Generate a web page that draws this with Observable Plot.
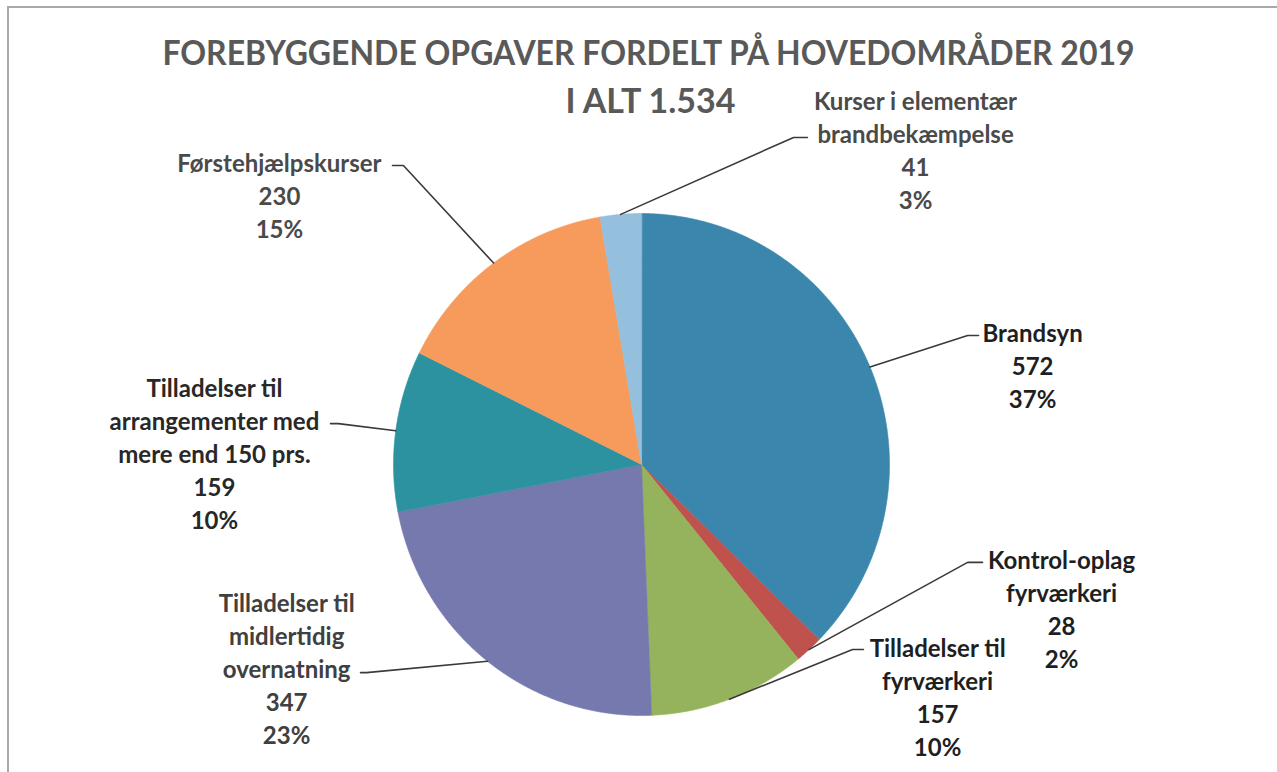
<!DOCTYPE html>
<html>
<head>
<meta charset="utf-8">
<script src="https://cdn.jsdelivr.net/npm/d3@7"></script>
<script src="https://cdn.jsdelivr.net/npm/@observablehq/plot@0.6"></script>
<style>
  html, body { margin: 0; padding: 0; background: #fff; }
  #wrap { position: relative; width: 1277px; height: 772px; overflow: hidden; background: #fff; }
  #frame { position: absolute; left: 7px; top: 6px; right: -4px; bottom: -4px;
           border-left: 2px solid #a9a9a9; border-top: 2px solid #a9a9a9; }
  #title { position: absolute; left: 10px; top: 28px; width: 1277px; text-align: center;
           font-family: Lato, "Open Sans", sans-serif; font-weight: 700; font-size: 34px;
           line-height: 48px; color: #595959; }
  #title .l1 { transform: scaleX(0.94); transform-origin: 638px 0; }
  #title .l2 { margin-left: 4px; }
  #chart { position: absolute; left: 0; top: 0; }
</style>
</head>
<body>
<div id="wrap">
  <div id="frame"></div>
  <div id="chart"></div>
  <div id="title"></div>
</div>
<script>
// ---- data ----
const titleText = "FOREBYGGENDE OPGAVER FORDELT PÅ HOVEDOMRÅDER 2019";
const totalPrefix = "I ALT";
const categories = [
  "Brandsyn",
  "Kontrol-oplag\nfyrværkeri",
  "Tilladelser til\nfyrværkeri",
  "Tilladelser til\nmidlertidig\novernatning",
  "Tilladelser til\narrangementer med\nmere end 150 prs.",
  "Førstehjælpskurser",
  "Kurser i elementær\nbrandbekæmpelse"
];
const values = [572, 28, 157, 347, 159, 230, 41];
const sliceColors = ["#3b86ad", "#c0524e", "#94b35c", "#7679ad", "#2d929f", "#f69b5c", "#94c0de"];

// ---- label layout (pie-radius units; elbow, end of leader, text anchor, text colour) ----
const labelLayout = [
  {ex: 1.315, ey: -0.514, tx: 1.359, ty: -0.514, lx: 1.577, ly: -0.514, color: "#1f1f1f"},
  {ex: 1.315, ey: 0.390,  tx: 1.375, ty: 0.390,  lx: 1.694, ly: 0.390,  color: "#1f1f1f"},
  {ex: 0.851, ey: 0.737,  tx: 0.895, ty: 0.737,  lx: 1.194, ly: 0.741,  color: "#1f1f1f"},
  {ex: -1.109, ey: 0.829, tx: -1.133, ty: 0.829, lx: -1.431, ly: 0.562, color: "#404040"},
  {ex: -1.222, ey: -0.163, tx: -1.254, ty: -0.163, lx: -1.722, ly: -0.295, color: "#282828"},
  {ex: -0.960, ey: -1.191, tx: -1.004, ty: -1.191, lx: -1.460, ly: -1.191, color: "#4a4a4a"},
  {ex: 0.613, ey: -1.303, tx: 0.669, ty: -1.303, lx: 1.105, ly: -1.438, color: "#4a4a4a"}
];

// ---- build ----
const total = d3.sum(values);
const dkFormat = d3.formatLocale({decimal: ",", thousands: ".", grouping: [3], currency: ["", ""]}).format(",");
const titleEl = document.getElementById("title");
titleEl.innerHTML = "";
const t1 = document.createElement("div"); t1.className = "l1"; t1.textContent = titleText;
const t2 = document.createElement("div"); t2.className = "l2"; t2.textContent = `${totalPrefix} ${dkFormat(total)}`;
titleEl.append(t1, t2);

const arcs = d3.pie().sort(null).value(d => d)(values);
const slicePts = [];
arcs.forEach((a, i) => {
  const cat = categories[i];
  slicePts.push({cat, x: 0, y: 0});
  const n = Math.max(4, Math.ceil((a.endAngle - a.startAngle) / 0.005));
  for (let k = 0; k <= n; k++) {
    const ang = a.startAngle + (a.endAngle - a.startAngle) * k / n;
    slicePts.push({cat, x: Math.sin(ang), y: -Math.cos(ang)});
  }
});

const leaderPts = [];
arcs.forEach((a, i) => {
  const mid = (a.startAngle + a.endAngle) / 2;
  const L = labelLayout[i];
  leaderPts.push({id: i, x: Math.sin(mid), y: -Math.cos(mid)});
  leaderPts.push({id: i, x: L.ex, y: L.ey});
  leaderPts.push({id: i, x: L.tx, y: L.ty});
});

const fs = 24;
const textMarks = arcs.map((a, i) => {
  const L = labelLayout[i];
  const pct = Math.round(values[i] / total * 100) + "%";
  return Plot.text([{x: L.lx, y: L.ly, t: `${categories[i]}\n${values[i]}\n${pct}`}], {
    x: "x", y: "y", text: "t",
    fontSize: fs, fontWeight: 700, fontFamily: "Lato, 'Open Sans', sans-serif",
    textAnchor: "middle", lineAnchor: "top", lineHeight: 1.375, dy: -0.71 * fs,
    fill: L.color
  });
});

const chart = Plot.plot({
  width: 1277, height: 772,
  marginTop: 0, marginBottom: 0, marginLeft: 0, marginRight: 0,
  style: {background: "transparent"},
  x: {domain: [-1, 1], range: [393, 889], axis: null},
  y: {domain: [-1, 1], range: [213, 715], axis: null},
  color: {domain: categories, range: sliceColors},
  marks: [
    Plot.line(slicePts, {x: "x", y: "y", z: "cat", fill: "cat", stroke: "cat", strokeWidth: 0.6, curve: "linear-closed"}),
    Plot.line(leaderPts, {x: "x", y: "y", z: "id", stroke: "#3a3a3a", strokeWidth: 1.6}),
    ...textMarks
  ]
});
document.getElementById("chart").append(chart);
</script>
</body>
</html>
